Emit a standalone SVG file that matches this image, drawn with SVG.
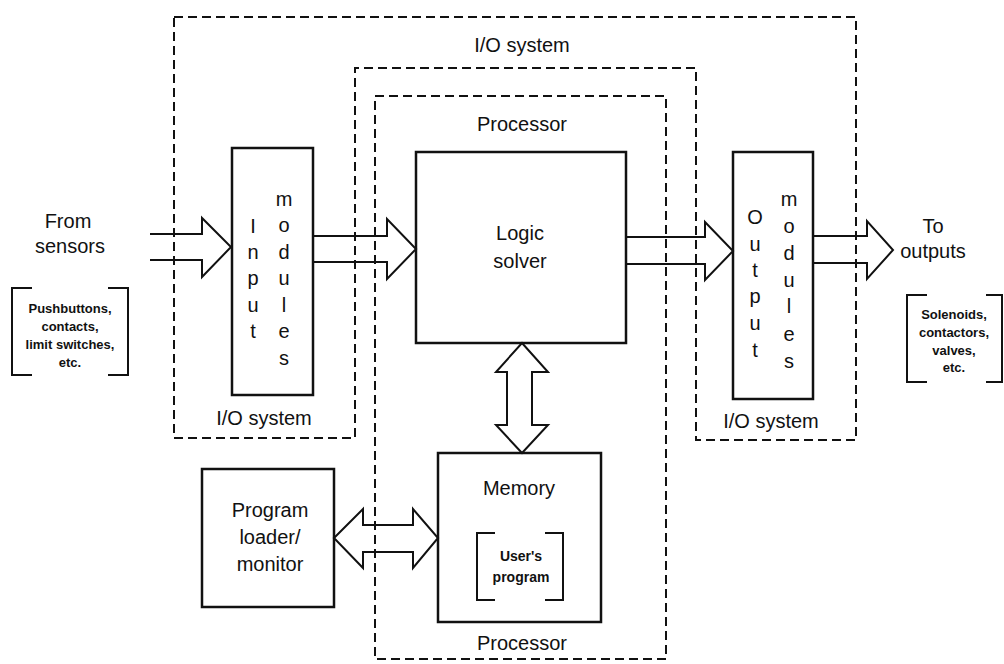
<svg xmlns="http://www.w3.org/2000/svg" width="1004" height="664" viewBox="0 0 1004 664">
<style>
.box{fill:none;stroke:#111;stroke-width:2.5}
.dash{fill:none;stroke:#111;stroke-width:2;stroke-dasharray:9 5}
.arr{fill:none;stroke:#111;stroke-width:2;stroke-linejoin:miter}
.brk{fill:none;stroke:#111;stroke-width:2}
text{font-family:"Liberation Sans",Arial,Helvetica,sans-serif;fill:#111;text-anchor:middle;font-size:20px}
.sm{font-size:13px;font-weight:bold}
.us{font-size:14px;font-weight:bold}
</style>
<rect width="1004" height="664" fill="#fff"/>
<g id="io-system">
<path class="dash" d="M174,17 H856 V440 H696 V68 H355 V438 H174 Z"/>
<text x="522" y="52">I/O system</text>
<text x="264" y="425">I/O system</text>
<text x="771" y="428">I/O system</text>
</g>
<g id="processor">
<rect class="dash" x="375" y="96" width="291" height="563"/>
<text x="522" y="131">Processor</text>
<text x="522" y="650">Processor</text>
</g>
<g id="sensors">
<text x="68" y="228">From</text>
<text x="70" y="253">sensors</text>
<path class="brk" d="M32,288 H12 V375 H32 M108,288 H128 V375 H108"/>
<text class="sm" x="70" y="313">Pushbuttons,</text>
<text class="sm" x="70" y="331">contacts,</text>
<text class="sm" x="70" y="349">limit switches,</text>
<text class="sm" x="70" y="367">etc.</text>
</g>
<g id="input-modules">
<rect class="box" x="232" y="148" width="81" height="247"/>
<text x="253" y="233">I</text>
<text x="253" y="259">n</text>
<text x="253" y="285">p</text>
<text x="253" y="312">u</text>
<text x="253" y="338">t</text>
<text x="284" y="206">m</text>
<text x="284" y="232">o</text>
<text x="284" y="259">d</text>
<text x="284" y="285">u</text>
<text x="284" y="312">l</text>
<text x="284" y="338">e</text>
<text x="284" y="365">s</text>
</g>
<g id="logic-solver">
<rect class="box" x="416" y="152" width="210" height="191"/>
<text x="520" y="240">Logic</text>
<text x="520" y="268">solver</text>
</g>
<g id="output-modules">
<rect class="box" x="733" y="152" width="80" height="247"/>
<text x="755" y="224">O</text>
<text x="755" y="251">u</text>
<text x="755" y="277">t</text>
<text x="755" y="303">p</text>
<text x="755" y="330">u</text>
<text x="755" y="357">t</text>
<text x="789" y="206">m</text>
<text x="789" y="233">o</text>
<text x="789" y="260">d</text>
<text x="789" y="287">u</text>
<text x="789" y="313">l</text>
<text x="789" y="341">e</text>
<text x="789" y="368">s</text>
</g>
<g id="outputs">
<text x="933" y="233">To</text>
<text x="933" y="258">outputs</text>
<path class="brk" d="M927,295 H907 V382 H927 M986,295 H1002 V382 H986"/>
<text class="sm" x="954" y="319">Solenoids,</text>
<text class="sm" x="954" y="337">contactors,</text>
<text class="sm" x="954" y="355">valves,</text>
<text class="sm" x="954" y="372">etc.</text>
</g>
<g id="memory">
<rect class="box" x="438" y="453" width="163" height="169"/>
<text x="519" y="495">Memory</text>
<path class="brk" d="M495,533 H477 V600 H495 M545,533 H563 V600 H545"/>
<text class="us" x="521" y="561">User's</text>
<text class="us" x="521" y="582">program</text>
</g>
<g id="program-loader">
<rect class="box" x="202" y="469" width="132" height="138"/>
<text x="270" y="517">Program</text>
<text x="270" y="544">loader/</text>
<text x="270" y="571">monitor</text>
</g>
<g id="connectors">
<path class="arr" d="M150,234 H202 V218 L231,247 L202,277 V260 H150"/>
<path class="arr" d="M313,236 H387 V219 L416,249 L387,279 V262 H313"/>
<path class="arr" d="M626,237 H705 V222 L733,251 L705,280 V264 H626"/>
<path class="arr" d="M813,236 H867 V221 L893,250 L867,279 V263 H813"/>
<path class="arr" d="M522,343 L548,372 H532 V425 H548 L522,453 L496,425 H507 V372 H496 Z"/>
<path class="arr" d="M334,538 L363,509 V525 H413 V509 L438,538 L413,568 V552 H363 V568 Z"/>
</g>
</svg>
